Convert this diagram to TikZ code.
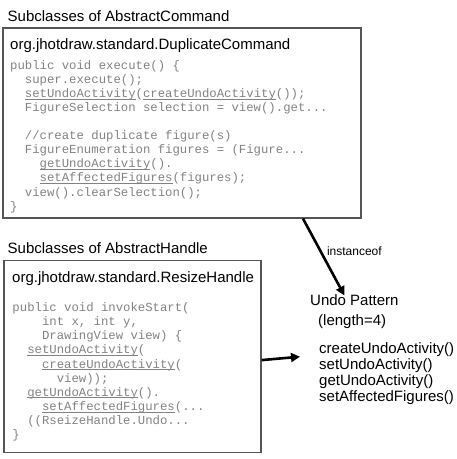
\documentclass[tikz,border=0pt]{standalone}
\usepackage{fontspec}
\setmainfont{Liberation Sans}
\setmonofont{Liberation Mono}
\usetikzlibrary{arrows.meta,positioning}
\definecolor{codegray}{RGB}{130,130,130}
\definecolor{framegray}{RGB}{85,85,85}
\newcommand{\ind}[1]{\hspace*{\dimexpr 0.6em*#1\relax}}
\newcommand{\undl}[1]{\underline{\smash{#1}}}
\tikzset{
  grouptitle/.style={anchor=base west, inner sep=0pt, font=\fontsize{15}{18}\selectfont},
  classbox/.style={draw=framegray, line width=1.2pt, inner sep=0pt},
  codetext/.style={anchor=north west, inner sep=0pt, align=left, text=codegray,
    font=\ttfamily\fontsize{12.3}{14.1}\selectfont},
  bigarrow/.style={-{Triangle[length=9pt,width=9pt]}, line width=2.6pt}
}

\begin{document}
\begin{tikzpicture}[x=1pt, y=-1pt]
  \useasboundingbox (0,0) rectangle (457,459);

  % Command side
  \node[grouptitle] (cmdgroup) at (7.5,21) {Subclasses of AbstractCommand};
  \node[classbox, minimum width=358pt, minimum height=190pt] (cmdbox) at (182,123) {};
  \node[grouptitle] (cmdname) at (10,49) {org.jhotdraw.standard.DuplicateCommand};
  \node[codetext] (cmdcode) at (10,60) {%
    public void execute() \{\\
    \ind{2}super.execute();\\
    \ind{2}\undl{setUndoActivity}(\undl{createUndoActivity}());\\
    \ind{2}FigureSelection selection = view().get...\\
    \mbox{}\\
    \ind{2}//create duplicate figure(s)\\
    \ind{2}FigureEnumeration figures = (Figure...\\
    \ind{4}\undl{getUndoActivity}().\\
    \ind{4}\undl{setAffectedFigures}(figures);\\
    \ind{2}view().clearSelection();\\
    \}};

  % Handle side
  \node[grouptitle] (hdlgroup) at (7.5,253.5) {Subclasses of AbstractHandle};
  \node[classbox, minimum width=257pt, minimum height=192pt] (hdlbox) at (132.5,356.7) {};
  \node[grouptitle] (hdlname) at (12,282) {org.jhotdraw.standard.ResizeHandle};
  \node[codetext] (hdlcode) at (12.3,302.5) {%
    public void invokeStart(\\
    \ind{4}int x, int y,\\
    \ind{4}DrawingView view) \{\\
    \ind{2}\undl{setUndoActivity}(\\
    \ind{4}\undl{createUndoActivity}(\\
    \ind{6}view));\\
    \ind{2}\undl{getUndoActivity}().\\
    \ind{4}\undl{setAffectedFigures}(...\\
    \ind{2}((RseizeHandle.Undo...\\
    \}};

  % Undo pattern
  \node[grouptitle] (undo) at (310,305.5) {Undo Pattern};
  \node[grouptitle] (undolen) at (318,325.5) {(length=4)};
  \node[grouptitle, anchor=north west, align=left, font=\fontsize{15}{16}\selectfont] (methods) at (319,342) {%
    createUndoActivity()\\
    setUndoActivity()\\
    getUndoActivity()\\
    setAffectedFigures()};

  % Arrows
  \draw[bigarrow] ([xshift=121pt]cmdbox.south) -- node[right=2pt, pos=0.42, font=\fontsize{12}{14}\selectfont] {instanceof} ([xshift=-10pt,yshift=-1pt]undo.north);
  \draw[bigarrow] ([yshift=-3.4pt]hdlbox.east) -- ([xshift=-19pt]hdlbox.east -| methods.west);
\end{tikzpicture}
\end{document}
